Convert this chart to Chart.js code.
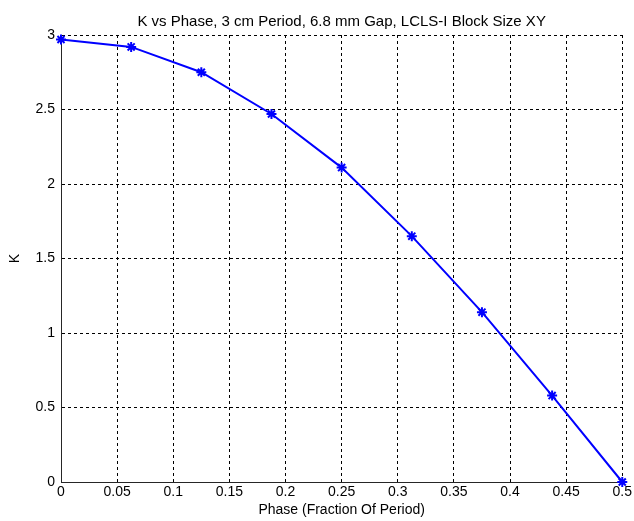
<!DOCTYPE html>
<html>
<head>
<meta charset="utf-8">
<title>K vs Phase</title>
<script src="https://cdn.jsdelivr.net/npm/chart.js@4/dist/chart.umd.min.js"></script>
<style>
  body { margin: 0; background: #ffffff; }
  #wrap { width: 634px; height: 521px; }
</style>
</head>
<body>
<div id="wrap"><canvas id="chart-k" width="634" height="521"></canvas></div>
<script>
const TITULO = 'K vs Phase, 3 cm Period, 6.8 mm Gap, LCLS-I Block Size XY';
const ROTULO_X = 'Phase (Fraction Of Period)';
const ROTULO_Y = 'K';

// fase (fração do período) e K medido em cada ponto
const fases = [0, 0.0625, 0.125, 0.1875, 0.25, 0.3125, 0.375, 0.4375, 0.5];
const valoresK = [2.97, 2.92, 2.75, 2.47, 2.11, 1.65, 1.14, 0.58, 0];

const ticksFase = [0, 0.05, 0.1, 0.15, 0.2, 0.25, 0.3, 0.35, 0.4, 0.45, 0.5];
const ticksK = [0, 0.5, 1, 1.5, 2, 2.5, 3];

const FONTE = '"Liberation Sans", Arial, sans-serif';
const TAM = 14;

let kChart;

// título desenhado centrado sobre a área do gráfico
const tituloPlugin = {
  id: 'tituloTopo',
  afterDraw(chart) {
    const { ctx, chartArea } = chart;
    ctx.save();
    ctx.font = `15px ${FONTE}`;
    ctx.fillStyle = '#000000';
    ctx.textAlign = 'center';
    ctx.textBaseline = 'middle';
    ctx.fillText(TITULO, (chartArea.left + chartArea.right) / 2, 22);
    ctx.restore();
  },
};

function init() {
  const ctx = document.getElementById('chart-k');
  const pontos = fases.map((x, i) => ({ x, y: valoresK[i] }));

  const eixoComum = {
    grid: { color: '#000000', lineWidth: 1, drawTicks: false },
    border: { display: true, color: '#262626', width: 1, dash: [3, 3] },
  };

  kChart = new Chart(ctx, {
    type: 'line',
    data: {
      datasets: [
        {
          label: 'K',
          data: pontos,
          borderColor: '#0000ff',
          backgroundColor: '#0000ff',
          borderWidth: 2,
          tension: 0,
          pointStyle: 'star',
          pointRadius: 5,
          pointHoverRadius: 5,
          pointBorderWidth: 2,
          clip: false,
        },
      ],
    },
    options: {
      responsive: false,
      animation: false,
      events: [],
      layout: { padding: { top: 35, right: 11, bottom: 0, left: 0 } },
      plugins: {
        legend: { display: false },
        tooltip: { enabled: false },
        title: { display: false },
      },
      scales: {
        x: {
          ...eixoComum,
          type: 'linear',
          min: 0,
          max: 0.5,
          afterBuildTicks: (s) => { s.ticks = ticksFase.map((v) => ({ value: v })); },
          afterFit: (s) => { s.height = 39; },
          ticks: {
            autoSkip: false,
            maxRotation: 0,
            padding: 2,
            color: '#000000',
            font: { family: FONTE, size: TAM },
            callback: (v) => String(v),
          },
          title: {
            display: true,
            text: ROTULO_X,
            color: '#000000',
            font: { family: FONTE, size: TAM },
            padding: { top: 0, bottom: 2.6 },
          },
        },
        y: {
          ...eixoComum,
          type: 'linear',
          min: 0,
          max: 3,
          afterBuildTicks: (s) => { s.ticks = ticksK.map((v) => ({ value: v })); },
          afterFit: (s) => { s.width = 61; },
          ticks: {
            autoSkip: false,
            padding: 6,
            color: '#000000',
            font: { family: FONTE, size: TAM },
            callback: (v) => String(v),
          },
          title: {
            display: true,
            text: ROTULO_Y,
            color: '#000000',
            font: { family: FONTE, size: TAM },
            padding: { top: 6.6, bottom: 0 },
          },
        },
      },
    },
    plugins: [tituloPlugin],
  });
}

document.addEventListener('DOMContentLoaded', init);
</script>
</body>
</html>
